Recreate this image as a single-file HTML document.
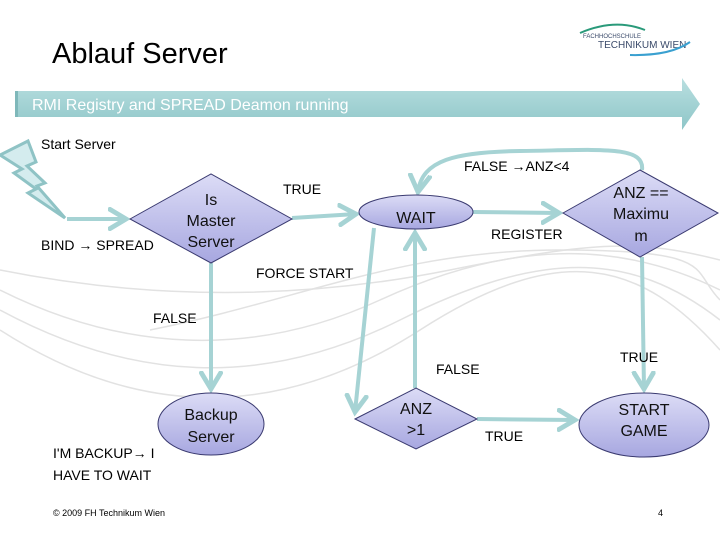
<!DOCTYPE html>
<html><head><meta charset="utf-8"><style>
html,body{margin:0;padding:0;background:#fff;}
svg{display:block;}
.l{font-family:"Liberation Sans Narrow","Liberation Sans",sans-serif;font-size:14px;fill:#000;}
.n{font-family:"Liberation Sans",sans-serif;font-size:16px;fill:#111;text-anchor:middle;}
</style></head><body>
<svg width="720" height="540" viewBox="0 0 720 540" xmlns="http://www.w3.org/2000/svg">
<defs>
<linearGradient id="bn" x1="0" y1="0" x2="0" y2="1"><stop offset="0" stop-color="#b9dfe0"/><stop offset="1" stop-color="#8ec6c8"/></linearGradient>
<linearGradient id="sh" x1="0" y1="0" x2="0" y2="1"><stop offset="0" stop-color="#dcdcf6"/><stop offset="1" stop-color="#a7a7e0"/></linearGradient>
<marker id="ar" markerWidth="6" markerHeight="6" refX="4.5" refY="3" orient="auto" markerUnits="strokeWidth"><path d="M0,0.3 L4.5,3 L0,5.7" fill="none" stroke="#a6d3d4" stroke-width="1.2"/></marker>
</defs>
<g fill="none" stroke="#e2e2e2" stroke-width="1.5">
<path d="M0,290 C120,350 250,360 380,300 S620,240 720,290"/>
<path d="M0,310 C130,380 260,390 400,320 S630,250 720,320"/>
<path d="M0,330 C140,420 280,420 420,330 S640,260 720,350"/>
<path d="M0,270 C150,300 300,300 450,270 S640,240 720,260"/>
<path d="M150,330 C300,300 400,250 560,250 S690,270 720,300"/>
</g>
<text x="52" y="63" font-family="Liberation Sans,sans-serif" font-size="29" fill="#000">Ablauf Server</text>
<path d="M580,33 Q615,18 645,30" fill="none" stroke="#2a9a7a" stroke-width="2"/>
<text x="583" y="38" font-family="Liberation Sans,sans-serif" font-size="6" fill="#3a4a6a">FACHHOCHSCHULE</text>
<text x="598" y="48" font-family="Liberation Sans,sans-serif" font-size="10" fill="#3a4a6a">TECHNIKUM WIEN</text>
<path d="M630,55 Q670,56 690,42" fill="none" stroke="#3aa0d0" stroke-width="2"/>
<path d="M15,91 L682,91 L682,78 L700,104 L682,130 L682,117 L15,117 Z" fill="url(#bn)"/>
<rect x="15" y="91" width="3" height="26" fill="#7fb8ba"/>
<text x="32" y="110" font-family="Liberation Sans,sans-serif" font-size="16" fill="#fff">RMI Registry and SPREAD Deamon running</text>
<path d="M0,155 L28,141 L36,162 L27,166 L45,183 L37,186 L65,218 L28,193 L36,189 L14,173 L22,169 Z" fill="#d4ecee" stroke="#8fc3c5" stroke-width="3" stroke-linejoin="miter"/>
<g fill="none" stroke="#a6d3d4" stroke-width="4" marker-end="url(#ar)">
<line x1="67" y1="219" x2="126" y2="219"/>
<line x1="292" y1="218" x2="356" y2="214"/>
<line x1="473" y1="212" x2="559" y2="213"/>
<path d="M642,170 C645,145 600,150 520,151 C455,152 422,160 418,192"/>
<line x1="211" y1="263" x2="211" y2="389"/>
<line x1="374" y1="228" x2="355" y2="412"/>
<line x1="415" y1="388" x2="415" y2="233"/>
<line x1="642" y1="257" x2="644" y2="389"/>
<line x1="477" y1="419" x2="575" y2="420"/>
</g>
<g stroke="#3a3a70" stroke-width="1" fill="url(#sh)">
<polygon points="130,219 211,174 292,219 211,263"/>
<ellipse cx="416" cy="212" rx="57" ry="17"/>
<polygon points="563,213 640,170 718,213 640,257"/>
<ellipse cx="211" cy="424" rx="53" ry="31"/>
<polygon points="355,419 416,388 477,419 416,449"/>
<ellipse cx="644" cy="425" rx="65" ry="32"/>
</g>
<text class="n"><tspan x="211" y="205">Is</tspan><tspan x="211" y="226">Master</tspan><tspan x="211" y="247">Server</tspan></text>
<text class="n" x="416" y="223">WAIT</text>
<text class="n"><tspan x="641" y="198">ANZ ==</tspan><tspan x="641" y="219">Maximu</tspan><tspan x="641" y="241">m</tspan></text>
<text class="n"><tspan x="211" y="420">Backup</tspan><tspan x="211" y="442">Server</tspan></text>
<text class="n"><tspan x="416" y="414">ANZ</tspan><tspan x="416" y="435">&gt;1</tspan></text>
<text class="n"><tspan x="644" y="415">START</tspan><tspan x="644" y="436">GAME</tspan></text>
<text class="l" x="41" y="149">Start Server</text>
<text class="l" x="41" y="250">BIND → SPREAD</text>
<text class="l" x="283" y="194">TRUE</text>
<text class="l" x="464" y="171">FALSE →ANZ&lt;4</text>
<text class="l" x="491" y="239">REGISTER</text>
<text class="l" x="256" y="278">FORCE START</text>
<text class="l" x="153" y="323">FALSE</text>
<text class="l" x="436" y="374">FALSE</text>
<text class="l" x="620" y="362">TRUE</text>
<text class="l" x="485" y="441">TRUE</text>
<text class="l" x="53" y="458">I'M BACKUP→ I</text>
<text class="l" x="53" y="480">HAVE TO WAIT</text>
<text x="53" y="516" font-family="Liberation Sans,sans-serif" font-size="9" fill="#000">© 2009 FH Technikum Wien</text>
<text x="658" y="516" font-family="Liberation Sans,sans-serif" font-size="9" fill="#000">4</text>
</svg>
</body></html>
